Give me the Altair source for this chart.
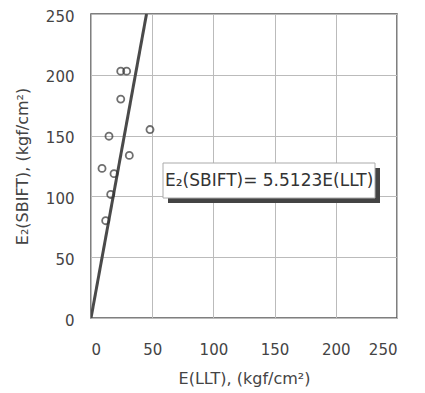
import altair as alt
import pandas as pd

# Data
e_llt = [24.3, 29.1, 24.3, 48.2, 14.7, 31.3, 9.0, 18.8, 16.1, 12.0]
e2_sbift = [203, 203, 180, 155, 149.5, 133.7, 123, 118.7, 101.6, 80]
slope = 5.5123
line_x = [0, 250 / slope]
x_ticks = [0, 50, 100, 150, 200, 250]
y_ticks = [0, 50, 100, 150, 200, 250]
eq_label = "E₂(SBIFT)= 5.5123E(LLT)"

pts = pd.DataFrame({"x": e_llt, "y": e2_sbift})
ln = pd.DataFrame({"x": line_x, "y": [slope * v for v in line_x]})

FONT = "DejaVu Sans"
W = 306
H = 304

xscale = alt.Scale(domain=[0, 250], nice=False)
yscale = alt.Scale(domain=[0, 250], nice=False)

xaxis = alt.Axis(values=x_ticks, title="E(LLT), (kgf/cm²)", grid=True, ticks=False,
                 labelPadding=24, labelFontSize=15, titleFontSize=16, titlePadding=13,
                 labelFont=FONT, titleFont=FONT, labelColor="#444", titleColor="#444",
                 titleFontWeight="normal", domain=False)
yaxis = alt.Axis(values=y_ticks, title="E₂(SBIFT), (kgf/cm²)", grid=True, ticks=False,
                 labelPadding=17, labelFontSize=15, titleFontSize=16, titlePadding=15,
                 labelOffset=2,
                 labelFont=FONT, titleFont=FONT, labelColor="#444", titleColor="#444",
                 titleFontWeight="normal", domain=False)

line = alt.Chart(ln).mark_line(color="#4a4a4a", strokeWidth=3, clip=True).encode(
    x=alt.X("x:Q", scale=xscale, axis=xaxis),
    y=alt.Y("y:Q", scale=yscale, axis=yaxis),
)

points = alt.Chart(pts).mark_point(shape="circle", filled=False, color="#333", size=50,
                                   strokeWidth=1.8).encode(
    x=alt.X("x:Q", scale=xscale),
    y=alt.Y("y:Q", scale=yscale),
)

shadow = alt.Chart(pd.DataFrame({"a": [0]})).mark_rect(color="#444").encode(
    x=alt.value(77), x2=alt.value(289), y=alt.value(154), y2=alt.value(189))
box = alt.Chart(pd.DataFrame({"a": [0]})).mark_rect(fill="white", stroke="#aaa",
                                                     strokeWidth=1).encode(
    x=alt.value(72), x2=alt.value(284), y=alt.value(149), y2=alt.value(184))
eq = alt.Chart(pd.DataFrame({"t": [eq_label]})).mark_text(
    align="left", baseline="middle", fontSize=17, font=FONT, color="#333").encode(
    x=alt.value(74), y=alt.value(167), text="t:N")

chart = alt.layer(line, points, shadow, box, eq).properties(
    width=W, height=H,
    padding={"left": 83, "top": 6, "right": 20, "bottom": 74},
    autosize=alt.AutoSizeParams(type="none"),
).configure_view(stroke="#555", strokeWidth=1.5).configure_axis(
    gridColor="#bbb", gridWidth=1)

chart.save("out.html", embed_options={"renderer": "svg", "actions": False})
